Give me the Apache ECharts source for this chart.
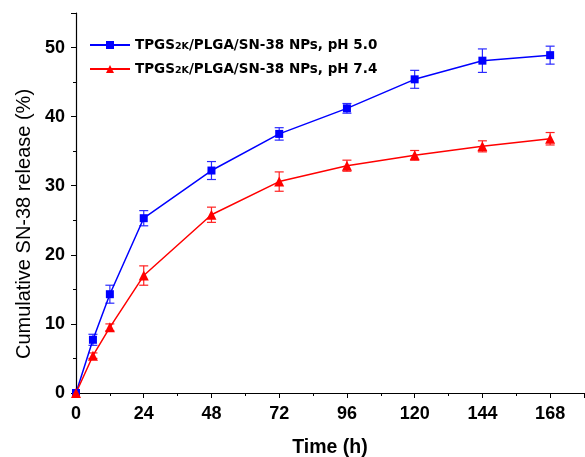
<!DOCTYPE html>
<html><head><meta charset="utf-8">
<script src="https://cdn.jsdelivr.net/npm/echarts@6/dist/echarts.min.js"></script>
<style>html,body{margin:0;padding:0;background:#fff}#c{width:585px;height:457px}</style>
</head><body><div id="c"></div>
<script>
var times = [0, 6, 12, 24, 48, 72, 96, 120, 144, 168];
var ph50 = [0, 7.7, 14.3, 25.3, 32.2, 37.5, 41.2, 45.4, 48.1, 48.9];
var ph50err = [0, 0.8, 1.3, 1.1, 1.3, 0.9, 0.7, 1.3, 1.7, 1.3];
var ph74 = [0, 5.4, 9.5, 17.0, 25.8, 30.6, 32.9, 34.4, 35.7, 36.8];
var ph74err = [0, 0.4, 0.5, 1.4, 1.1, 1.4, 0.8, 0.7, 0.8, 0.9];
var xTicks = [0, 24, 48, 72, 96, 120, 144, 168];
var yTicks = [0, 10, 20, 30, 40, 50];
var names = ['TPGS{s|2K}/PLGA/SN-38 NPs, pH 5.0', 'TPGS{s|2K}/PLGA/SN-38 NPs, pH 7.4'];

function pts(v) { return times.map(function (t, i) { return [t, v[i]]; }); }
function errPts(v, e) { return times.map(function (t, i) { return [t, v[i] - e[i], v[i] + e[i]]; }); }
function errSeries(v, e, color, cap) {
  return {
    type: 'custom', silent: true, z: 1,
    data: errPts(v, e),
    renderItem: function (params, api) {
      var x = api.value(0), lo = api.value(1), hi = api.value(2);
      if (hi - lo <= 0) return null;
      var p1 = api.coord([x, lo]), p2 = api.coord([x, hi]);
      var st = { stroke: color, lineWidth: 1.2 };
      return { type: 'group', children: [
        { type: 'line', shape: { x1: p1[0], y1: p1[1], x2: p2[0], y2: p2[1] }, style: st },
        { type: 'line', shape: { x1: p1[0] - cap, y1: p1[1], x2: p1[0] + cap, y2: p1[1] }, style: st },
        { type: 'line', shape: { x1: p2[0] - cap, y1: p2[1], x2: p2[0] + cap, y2: p2[1] }, style: st }
      ]};
    }
  };
}

var FF = 'Liberation Sans, Arial, sans-serif';
var chart = echarts.init(document.getElementById('c'));
chart.setOption({
  animation: false,
  backgroundColor: '#fff',
  grid: { left: 76, right: 1, top: 13, bottom: 64, containLabel: false, outerBoundsMode: 'none' },
  legend: {
    left: 84, top: 33, orient: 'vertical', itemGap: 10,
    itemWidth: 40, itemHeight: 10,
    data: [{ name: names[0] }, { name: names[1] }],
    textStyle: {
      fontFamily: 'DejaVu Sans', fontWeight: 'bold', fontSize: 13.5, color: '#000', padding: [0, 0, 0, 0],
      rich: { s: { fontFamily: 'DejaVu Sans', fontWeight: 'bold', fontSize: 9.5, color: '#000', verticalAlign: 'bottom', padding: [2, 0, 0, 0] } }
    }
  },
  xAxis: {
    type: 'value', min: 0, max: 180, interval: 24,
    name: 'Time (h)', nameLocation: 'middle', nameGap: 45,
    nameTextStyle: { fontFamily: FF, fontWeight: 'bold', fontSize: 19.5, color: '#000' },
    axisLine: { lineStyle: { color: '#000', width: 1.2 } },
    axisTick: { inside: false, length: 5, lineStyle: { color: '#000' } },
    minorTick: { show: true, splitNumber: 2, length: 3, lineStyle: { color: '#000' } },
    splitLine: { show: false },
    axisLabel: { margin: 12, fontFamily: FF, fontWeight: 'bold', fontSize: 18, color: '#000',
      formatter: function (v) { return xTicks.indexOf(v) >= 0 ? String(v) : ''; } }
  },
  yAxis: {
    type: 'value', min: 0, max: 55, interval: 10,
    name: 'Cumulative SN-38 release (%)', nameLocation: 'middle', nameGap: 41,
    nameTextStyle: { fontFamily: FF, fontSize: 20, color: '#000', padding: [0, 42, 0, 0] },
    axisLine: { show: true, lineStyle: { color: '#000', width: 1.2 } },
    axisTick: { show: true, inside: false, length: 5, lineStyle: { color: '#000' } },
    minorTick: { show: true, splitNumber: 2, length: 3, lineStyle: { color: '#000' } },
    splitLine: { show: false },
    axisLabel: { margin: 11, fontFamily: FF, fontWeight: 'bold', fontSize: 18, color: '#000',
      formatter: function (v) { return yTicks.indexOf(v) >= 0 ? String(v) : ''; } }
  },
  series: [
    errSeries(ph50, ph50err, '#2a2aff', 4.5),
    errSeries(ph74, ph74err, '#ff2020', 4.5),
    { name: names[0], type: 'line', data: pts(ph50), symbol: 'rect', symbolSize: 8, z: 3,
      lineStyle: { color: '#0000ff', width: 1.5 }, itemStyle: { color: '#0000ff' } },
    { name: names[1], type: 'line', data: pts(ph74), symbol: 'triangle', symbolSize: 10, z: 3,
      lineStyle: { color: '#ff0000', width: 1.5 }, itemStyle: { color: '#ff0000' } }
  ]
});
</script></body></html>
